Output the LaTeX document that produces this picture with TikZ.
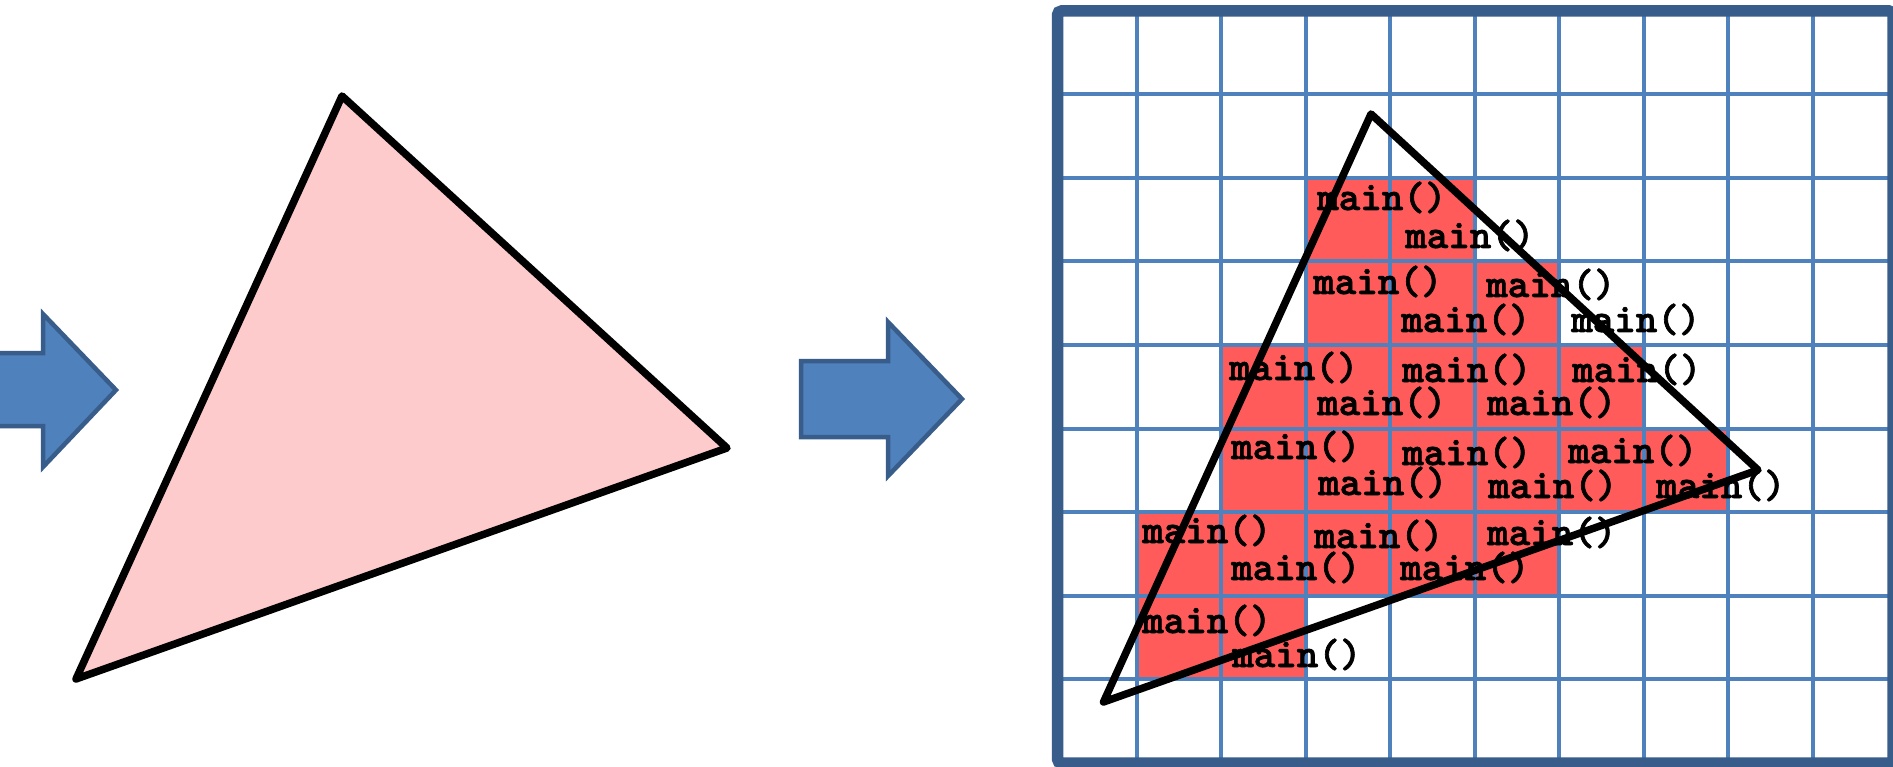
\documentclass[tikz,border=0pt]{standalone}
\usepackage{fontspec}
\newfontfamily\codefont{lmmonolt10-bold}[Extension=.otf, FakeBold=1.6]
\definecolor{arrowfill}{RGB}{79,129,189}
\definecolor{arrowline}{RGB}{56,93,138}
\definecolor{gridblue}{RGB}{79,129,189}
\definecolor{cellred}{RGB}{255,91,91}
\definecolor{trifill}{RGB}{253,203,203}
\tikzset{
  bigarrow/.style={fill=arrowfill, draw=arrowline, line width=4.5pt, line join=miter},
  tri/.style={draw=black, line width=7.5pt, line join=round},
  cell/.style={fill=cellred},
  gridln/.style={draw=gridblue, line width=4pt},
  frame/.style={draw=arrowline, line width=11.5pt, rounded corners=4pt},
  lbl/.style={anchor=base west, inner sep=0pt, font=\fontsize{41}{45}\selectfont\codefont}
}
\begin{document}
\begin{tikzpicture}[x=1pt,y=-1pt]
\useasboundingbox (0,0) rectangle (1893,767);
\fill[white] (0,0) rectangle (1893,767);
% arrows
\draw[bigarrow] (-20,353) -- (43,353) -- (43,314) -- (116,390) -- (43,467) -- (43,426) -- (-20,426) -- cycle;
\draw[bigarrow] (801,361) -- (888,361) -- (888,322) -- (962,399) -- (888,476) -- (888,437) -- (801,437) -- cycle;
% left triangle
\coordinate (a1) at (342,96);
\coordinate (a2) at (727,448);
\coordinate (a3) at (76,679);
\draw[tri, fill=trifill] (a1) -- (a2) -- (a3) -- cycle;
% red cells
\foreach \c/\r in {3/2,4/2,3/3,4/3,5/3,2/4,3/4,4/4,5/4,6/4,2/5,3/5,4/5,5/5,6/5,7/5,1/6,2/6,3/6,4/6,5/6,1/7,2/7}
  \fill[cell] ({1052.2+84.5*\c},{11+83.5*\r}) rectangle ++(84.5,83.5);
% grid
\foreach \k in {1,...,9}
  \draw[gridln] ({1052.2+84.5*\k},11) -- ({1052.2+84.5*\k},763);
\foreach \k in {1,...,8}
  \draw[gridln] (1057.5,{11+83.5*\k}) -- (1893,{11+83.5*\k});
\draw[frame] (1057.5,11) rectangle (1893,763);
% labels
\node[lbl] (l1) at (1317,210) {main()};
\node[lbl] (l2) at (1405,248) {main()};
\node[lbl] (l3) at (1313,294) {main()};
\node[lbl] (l4) at (1486,297) {main()};
\node[lbl] (l5) at (1401,332) {main()};
\node[lbl] (l6) at (1571,332) {main()};
\node[lbl] (l7) at (1229,380) {main()};
\node[lbl] (l8) at (1402,382) {main()};
\node[lbl] (l9) at (1572,382) {main()};
\node[lbl] (l10) at (1317,415) {main()};
\node[lbl] (l11) at (1487,415) {main()};
\node[lbl] (l12) at (1231,459) {main()};
\node[lbl] (l13) at (1402,465) {main()};
\node[lbl] (l14) at (1568,463) {main()};
\node[lbl] (l15) at (1318,495) {main()};
\node[lbl] (l16) at (1488,498) {main()};
\node[lbl] (l17) at (1656,498) {main()};
\node[lbl] (l18) at (1142,543) {main()};
\node[lbl] (l19) at (1314,548) {main()};
\node[lbl] (l20) at (1487,545) {main()};
\node[lbl] (l21) at (1231,580) {main()};
\node[lbl] (l22) at (1400,580) {main()};
\node[lbl] (l23) at (1142,633) {main()};
\node[lbl] (l24) at (1232,667) {main()};
% triangle on grid
\coordinate (b1) at (1371,114);
\coordinate (b2) at (1758,470);
\coordinate (b3) at (1103.5,702);
\draw[tri] (b1) -- (b2) -- (b3) -- cycle;
\end{tikzpicture}
\end{document}
